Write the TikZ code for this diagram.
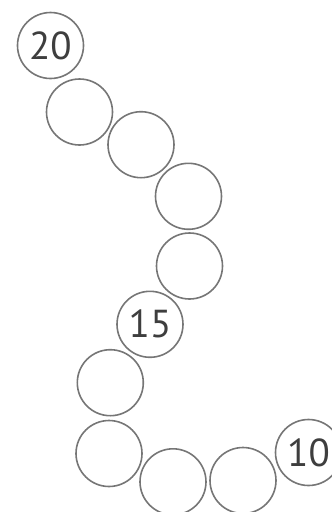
\documentclass[tikz,border=0pt]{standalone}
\usepackage{fontspec}
\setsansfont{PT Sans}
\definecolor{BeadLine}{RGB}{118,118,118}
\definecolor{BeadText}{RGB}{62,62,62}

\begin{document}
\begin{tikzpicture}[
  x=1pt, y=-1pt,
  bead/.style={
    circle, draw=BeadLine, line width=1.6pt, fill=white,
    minimum size=66pt, inner sep=0pt,
    font=\sffamily\fontsize{39}{39}\selectfont, text=BeadText
  }
]
\useasboundingbox (0,0) rectangle (332,512);
\clip (0,0) rectangle (332,512);

% --- chain of beads, from 20 down to 10 ---
\foreach \i/\x/\y/\num in {1/50.5/45.5/20, 2/79.5/112/{}, 3/141/144.7/{},
                           4/188.5/196.3/{}, 5/189.5/266/{}, 6/150/324.3/15,
                           7/110.3/382.7/{}, 8/109/453.5/{}, 9/173/481.8/{},
                           10/243/480.5/{}, 11/308.5/452.5/10}
{
  \node[bead] (b\i) at (\x,\y) {\num};
}

\end{tikzpicture}
\end{document}
